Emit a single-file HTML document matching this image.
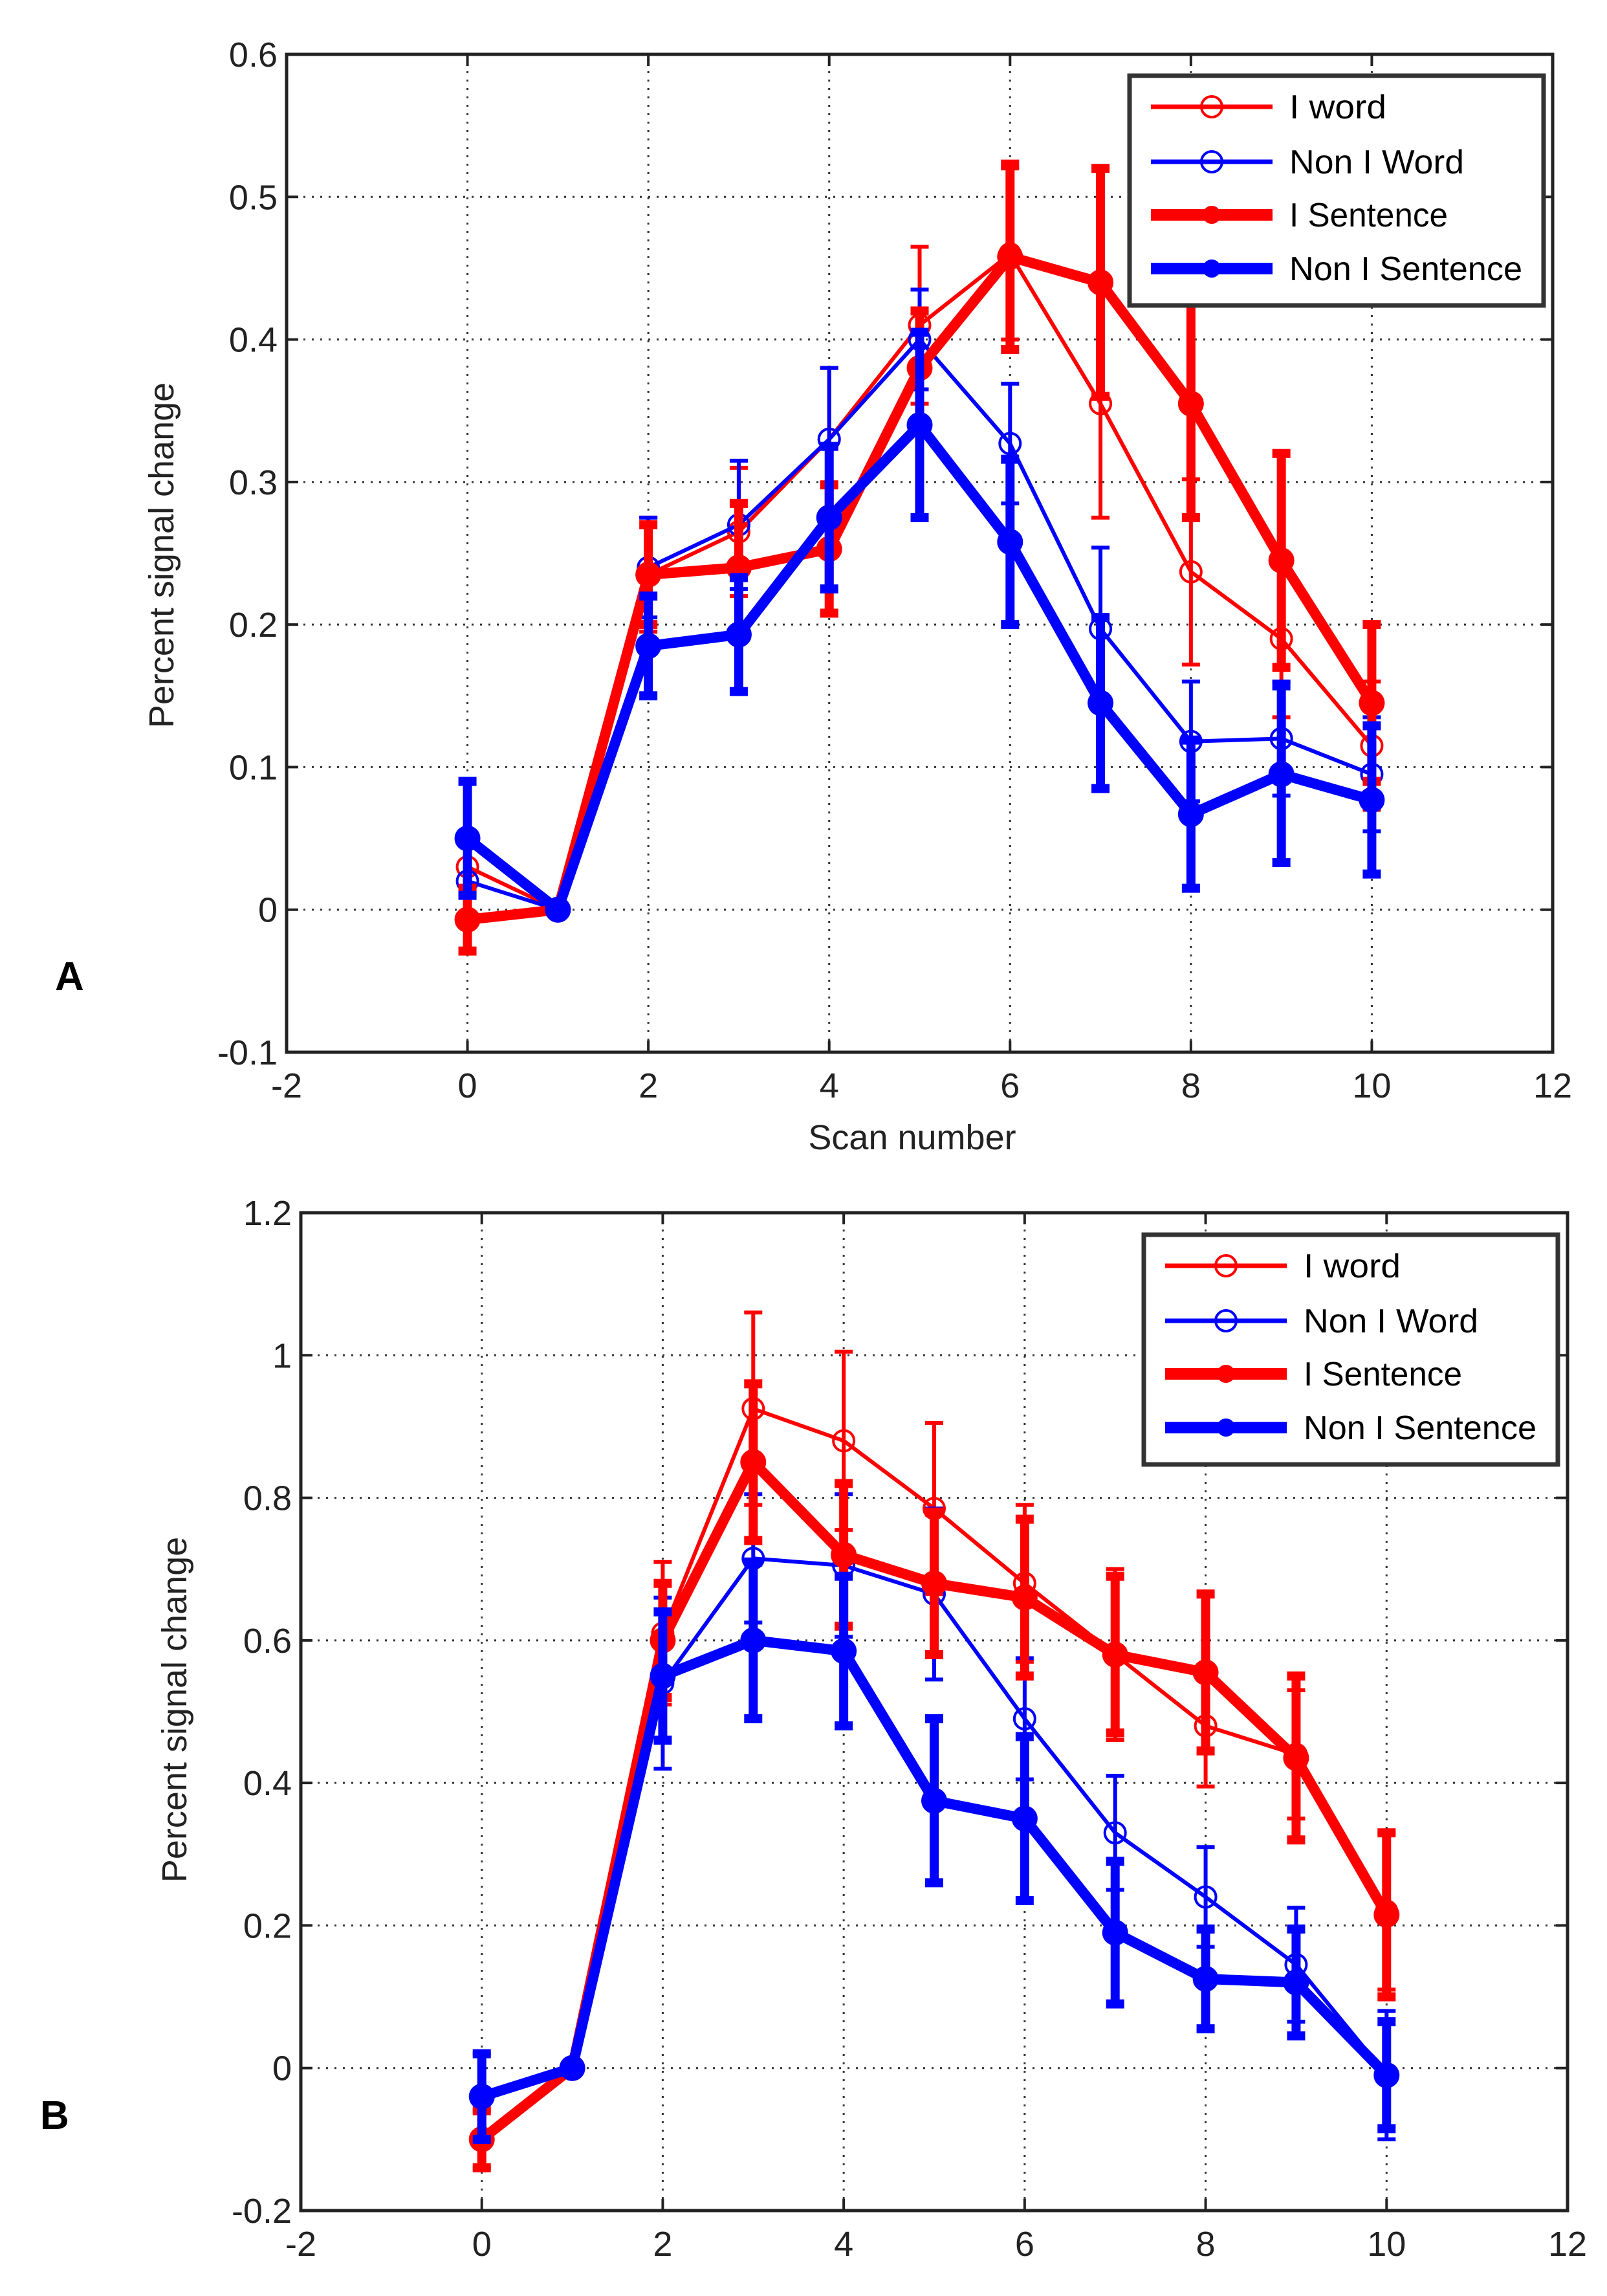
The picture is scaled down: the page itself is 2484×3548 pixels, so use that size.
<!DOCTYPE html>
<html><head><meta charset="utf-8"><style>
html,body{margin:0;padding:0;background:#fff;}
svg{display:block;font-family:"Liberation Sans",sans-serif;}
</style></head><body>
<svg id="fig" width="2484" height="3548" viewBox="0 0 2484 3548" xmlns="http://www.w3.org/2000/svg"></svg>
<script>
const scans = [0,1,2,3,4,5,6,7,8,9,10];
const seriesNames = ["I word","Non I Word","I Sentence","Non I Sentence"];
// Panel A
const aIWord = [0.03,0,0.235,0.265,0.33,0.41,0.46,0.355,0.237,0.19,0.115];
const aIWordErr = [0.02,0,0.04,0.045,0.05,0.055,0.06,0.08,0.065,0.055,0.045];
const aNonWord = [0.02,0,0.24,0.27,0.33,0.40,0.327,0.197,0.118,0.12,0.095];
const aNonWordErr = [0.03,0,0.035,0.045,0.05,0.035,0.042,0.057,0.042,0.04,0.04];
const aISent = [-0.007,0,0.235,0.24,0.253,0.38,0.458,0.44,0.355,0.245,0.145];
const aISentErr = [0.022,0,0.035,0.045,0.045,0.04,0.065,0.08,0.08,0.075,0.055];
const aNonSent = [0.05,0,0.185,0.193,0.275,0.34,0.258,0.145,0.067,0.095,0.077];
const aNonSentErr = [0.04,0,0.035,0.04,0.05,0.065,0.058,0.06,0.052,0.062,0.052];
// Panel B
const bIWord = [-0.1,0,0.61,0.925,0.88,0.785,0.68,0.58,0.48,0.44,0.22];
const bIWordErr = [0.04,0,0.1,0.135,0.125,0.12,0.11,0.12,0.085,0.09,0.11];
const bNonWord = [-0.04,0,0.54,0.715,0.705,0.665,0.49,0.33,0.24,0.145,-0.01];
const bNonWordErr = [0.06,0,0.12,0.09,0.1,0.12,0.085,0.08,0.07,0.08,0.09];
const bISent = [-0.1,0,0.6,0.85,0.72,0.68,0.66,0.58,0.555,0.435,0.215];
const bISentErr = [0.04,0,0.08,0.11,0.1,0.1,0.11,0.11,0.11,0.115,0.115];
const bNonSent = [-0.04,0,0.55,0.6,0.585,0.375,0.35,0.19,0.125,0.12,-0.01];
const bNonSentErr = [0.06,0,0.09,0.11,0.105,0.115,0.115,0.1,0.07,0.075,0.075];
const xTicks = [-2,0,2,4,6,8,10,12];
const aYTicks = [-0.1,0,0.1,0.2,0.3,0.4,0.5,0.6];
const bYTicks = [-0.2,0,0.2,0.4,0.6,0.8,1,1.2];

const NS="http://www.w3.org/2000/svg";
const svg=document.getElementById('fig');
function mk(tag,attrs,parent){const e=document.createElementNS(NS,tag);for(const k in attrs)e.setAttribute(k,attrs[k]);(parent||svg).appendChild(e);return e;}
function fmt(v){return String(Math.round(v*10)/10);}

function panel(P){
  const g=mk('g',{});
  
  
  const X=v=>P.L+(v-(-2))/(14)*(P.R-P.L);
  const Y=v=>P.B-(v-P.ymin)/(P.ymax-P.ymin)*(P.B-P.T);
  xTicks.forEach(t=>{if(t>-2&&t<12){const l=mk('line',{x1:X(t),x2:X(t),y1:P.T,y2:P.B,stroke:'#333','stroke-width':3,'stroke-dasharray':'3 10'},g);}});
  P.yt.forEach((t,i)=>{if(i>0&&i<P.yt.length-1){const l=mk('line',{x1:P.L,x2:P.R,y1:Y(t),y2:Y(t),stroke:'#333','stroke-width':3,'stroke-dasharray':'3 10'},g);}});
  xTicks.forEach(t=>{
    mk('line',{x1:X(t),x2:X(t),y1:P.B,y2:P.B-18,stroke:'#222','stroke-width':4},g);
    mk('line',{x1:X(t),x2:X(t),y1:P.T,y2:P.T+18,stroke:'#222','stroke-width':4},g);
    const tx=mk('text',{x:X(t),y:P.B+70,'font-size':54,'text-anchor':'middle',fill:'#222'},g);
    tx.textContent=String(t);
    
    
  });
  P.yt.forEach(t=>{
    mk('line',{x1:P.L,x2:P.L+18,y1:Y(t),y2:Y(t),stroke:'#222','stroke-width':4},g);
    mk('line',{x1:P.R,x2:P.R-18,y1:Y(t),y2:Y(t),stroke:'#222','stroke-width':4},g);
    const tx=mk('text',{x:P.L-14,y:Y(t)+19,'font-size':54,'text-anchor':'end',fill:'#222'},g);
    tx.textContent=fmt(t);
    
    
  });
  P.series.forEach((s,si)=>{
    const sg=mk('g',{},g);
    
    
    const col=s.color, lw=s.thick?16:6, ew=s.thick?14:6, cap=14;
    s.err.forEach((e,i)=>{
      if(e<=0)return;
      const x=X(scans[i]);
      const eb=mk('line',{x1:x,x2:x,y1:Y(s.vals[i]-e),y2:Y(s.vals[i]+e),stroke:col,'stroke-width':ew},sg);
      
      
      [s.vals[i]-e,s.vals[i]+e].forEach(v=>mk('line',{x1:x-cap,x2:x+cap,y1:Y(v),y2:Y(v),stroke:col,'stroke-width':s.thick?14:6},sg));
    });
    const pts=s.vals.map((v,i)=>X(scans[i])+','+Y(v)).join(' ');
    const pl=mk('polyline',{points:pts,fill:'none',stroke:col,'stroke-width':lw,'stroke-linejoin':'round'},sg);
    
    
    s.vals.forEach((v,i)=>{
      const c=mk('circle',{cx:X(scans[i]),cy:Y(v),r:s.thick?16:16,fill:s.thick?col:'none',stroke:col,'stroke-width':s.thick?8:4},sg);
      
      
    });
  });
  const fr=mk('rect',{x:P.L,y:P.T,width:P.R-P.L,height:P.B-P.T,fill:'none',stroke:'#222','stroke-width':5},g);
  
  
  const yt=mk('text',{x:0,y:0,'font-size':54,'text-anchor':'middle',fill:'#222',transform:`translate(${P.ytx},${P.yty}) rotate(-90)`},g);
  yt.textContent='Percent signal change';
  
  
  if(P.xtitle){
    const xt=mk('text',{x:1410,y:P.B+150,'font-size':54,'text-anchor':'middle',fill:'#222'},g);
    xt.textContent='Scan number';
    
    
  }
  const pl=mk('text',{x:P.lx,y:P.ly,'font-size':62,'font-weight':'bold',fill:'#000'},g);
  pl.textContent=P.id.toUpperCase();
  
  
  const lg=mk('g',{},g);
  
  
  mk('rect',{x:P.lgx,y:P.lgy,width:640,height:355,fill:'#fff',stroke:'#333','stroke-width':7},lg);
  const rows=[48,133,215,298];
  P.series.forEach((s,si)=>{
    const e=mk('g',{},lg);
    
    
    const y=P.lgy+rows[si];
    mk('line',{x1:P.lgx+33,x2:P.lgx+221,y1:y,y2:y,stroke:s.color,'stroke-width':s.thick?18:7},e);
    mk('circle',{cx:P.lgx+127,cy:y,r:s.thick?12:16,fill:s.thick?s.color:'none',stroke:s.color,'stroke-width':4},e);
    const t=mk('text',{x:P.lgx+247,y:y+18,'font-size':52,fill:'#000',textLength:s.tl,lengthAdjust:'spacingAndGlyphs'},e);
    t.textContent=seriesNames[si];
  });
}
const tls=[150,270,245,360];
panel({id:'a',L:443,R:2400,T:84,B:1626,ymin:-0.1,ymax:0.6,yt:aYTicks,xtitle:true,ytx:268,yty:858,lx:85,ly:1530,lgx:1746,lgy:117,
  series:[{vals:aIWord,err:aIWordErr,color:'#ff0000',thick:false,tl:tls[0]},{vals:aNonWord,err:aNonWordErr,color:'#0000ff',thick:false,tl:tls[1]},{vals:aISent,err:aISentErr,color:'#ff0000',thick:true,tl:tls[2]},{vals:aNonSent,err:aNonSentErr,color:'#0000ff',thick:true,tl:tls[3]}]});
panel({id:'b',L:465,R:2423,T:1874,B:3416,ymin:-0.2,ymax:1.2,yt:bYTicks,xtitle:false,ytx:288,yty:2642,lx:62,ly:3290,lgx:1768,lgy:1908,
  series:[{vals:bIWord,err:bIWordErr,color:'#ff0000',thick:false,tl:tls[0]},{vals:bNonWord,err:bNonWordErr,color:'#0000ff',thick:false,tl:tls[1]},{vals:bISent,err:bISentErr,color:'#ff0000',thick:true,tl:tls[2]},{vals:bNonSent,err:bNonSentErr,color:'#0000ff',thick:true,tl:tls[3]}]});
</script>
</body></html>
